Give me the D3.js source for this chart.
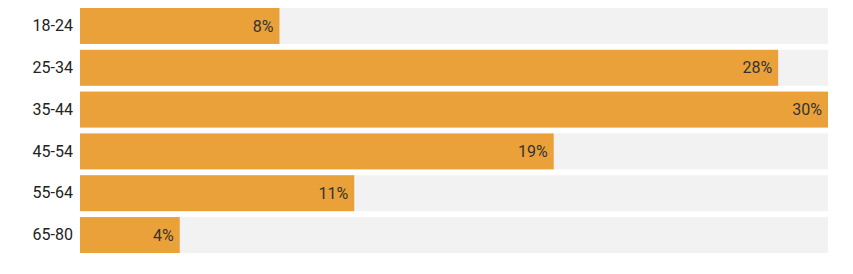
<!DOCTYPE html>
<html>
<head>
<meta charset="utf-8">
<script src="https://cdn.jsdelivr.net/npm/d3@7"></script>
<style>
  html, body { margin:0; padding:0; background:#fff; }
  #chart { width:853px; height:274px; }
</style>
</head>
<body>
<div id="chart"></div>
<script>
// age groups and share of respondents (%)
const ageGroups = ['18-24','25-34','35-44','45-54','55-64','65-80'];
const shares = [8, 28, 30, 19, 11, 4];
const maxShare = 30;

(function(){
  const w = 853, h = 274;
  const margin = {top:8, right:25, bottom:21, left:80};
  const width = w - margin.left - margin.right;
  const height = h - margin.top - margin.bottom;

  const data = ageGroups.map((a,i)=>({age:a, value:shares[i]}));

  const svg = d3.select('#chart').append('svg').attr('width',w).attr('height',h);
  const g = svg.append('g').attr('transform',`translate(${margin.left},${margin.top})`);

  const y = d3.scaleBand().domain(ageGroups).range([0,height]).paddingInner(0.14).paddingOuter(0);
  const x = d3.scaleLinear().domain([0,maxShare]).range([0,width]);

  // grey track behind each bar
  g.selectAll('rect.track').data(data).enter().append('rect')
    .attr('class','track')
    .attr('x',0).attr('y',d=>y(d.age))
    .attr('width',width).attr('height',y.bandwidth())
    .attr('fill','#f2f2f2');

  g.selectAll('rect.bar').data(data).enter().append('rect')
    .attr('class','bar')
    .attr('x',0).attr('y',d=>y(d.age))
    .attr('width',d=>x(d.value)).attr('height',y.bandwidth())
    .attr('fill','#eba13a');

  g.selectAll('text.val').data(data).enter().append('text')
    .attr('class','val')
    .attr('x',d=>x(d.value)-6)
    .attr('y',d=>y(d.age)+y.bandwidth()/2)
    .attr('dy','0.35em')
    .attr('text-anchor','end')
    .attr('font-family','Roboto, sans-serif').attr('font-size',16)
    .attr('fill','#333')
    .text(d=>d.value+'%');

  const axis = g.append('g').call(d3.axisLeft(y).tickSize(0).tickPadding(7));
  axis.select('.domain').remove();
  axis.selectAll('text').attr('font-family','Roboto, sans-serif').attr('font-size',16).attr('fill','#222');
})();
</script>
</body>
</html>
